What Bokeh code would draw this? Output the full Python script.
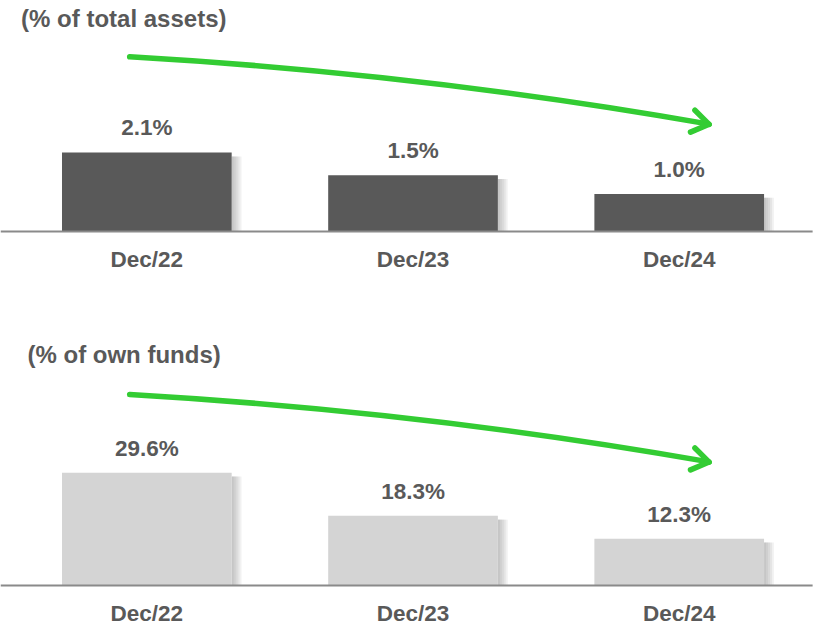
from bokeh.plotting import figure
from bokeh.models import Range1d
from bokeh.core.properties import value
from bokeh.embed import file_html
from bokeh.resources import INLINE

# ---- data ----
categories = ["Dec/22", "Dec/23", "Dec/24"]
assets_pct = [2.1, 1.5, 1.0]
own_funds_pct = [29.6, 18.3, 12.3]
assets_labels = ["2.1%", "1.5%", "1.0%"]
own_funds_labels = ["29.6%", "18.3%", "12.3%"]
title_top = "(% of total assets)"
title_bottom = "(% of own funds)"

# ---- layout / styles (reference-pixel geometry, scaled to the figure) ----
REF_W, REF_H = 834, 641
W, H = 818, 625
SX, SY = W / REF_W, H / REF_H
X0_REF, X_PX = 149.2, 271.4          # first category centre, px per category
TOP_BASE, TOP_PX = 237.0, 38.6       # top panel baseline, px per unit
BOT_BASE, BOT_PX = 600.0, 3.91       # bottom panel baseline, px per unit
BAR_W = 173 / X_PX
TXT_FIX = -8.5                       # renderer baseline correction (px)

DARK = "#595959"
LIGHT = "#d4d4d4"
TEXT = "#595959"
GREEN = "#33cc33"
FONT = value("Liberation Sans")


def fx(px):
    return (px - X0_REF) / X_PX


def fy_top(py):
    return (TOP_BASE - py) / TOP_PX


def fy_bot(py):
    return (BOT_BASE - py) / BOT_PX


p = figure(width=W, height=H, output_backend="svg", toolbar_location=None,
           x_range=Range1d(fx(0), fx(REF_W)),
           y_range=Range1d(fy_top(REF_H), fy_top(0)),
           min_border=0, outline_line_color=None)
p.extra_y_ranges = {"bot": Range1d(fy_bot(REF_H), fy_bot(0))}
p.axis.visible = False
p.grid.visible = False
p.background_fill_color = "white"
p.border_fill_color = "white"

xs = list(range(len(categories)))

panels = [
    ("default", assets_pct, assets_labels, DARK, TOP_PX, fy_top, title_top, 21.0, 27.3, 0.0),
    ("bot", own_funds_pct, own_funds_labels, LIGHT, BOT_PX, fy_bot, title_bottom, 27.5, 371.7, 346.4),
]

for rname, vals, labels, color, pxu, fy, title, tx, ty, dy in panels:
    # soft drop shadow on the right side of each bar
    for w in [2, 4, 6, 8, 10]:
        p.quad(left=[x + BAR_W / 2 for x in xs],
               right=[x + BAR_W / 2 + w / X_PX for x in xs],
               top=[v - 4 / pxu for v in vals], bottom=[0] * len(vals),
               fill_color="#808080", fill_alpha=0.11, line_color=None,
               y_range_name=rname)
    p.vbar(x=xs, top=vals, bottom=0, width=BAR_W, fill_color=color,
           line_color=None, y_range_name=rname)
    # baseline
    p.segment(x0=[fx(0)], y0=[0], x1=[fx(828)], y1=[0], line_color="#8a8a8a",
              line_width=2, y_range_name=rname)
    # value labels
    p.text(x=xs, y=vals, text=labels, text_align="center",
           text_baseline="alphabetic", y_offset=-16.5 * SY + TXT_FIX, text_font=FONT,
           text_font_style="bold", text_font_size="22.5px", text_color=TEXT,
           y_range_name=rname)
    # category labels
    p.text(x=xs, y=[0] * len(xs), text=categories, text_align="center",
           text_baseline="alphabetic", y_offset=37 * SY + TXT_FIX,
           text_font=FONT, text_font_style="bold", text_font_size="22.5px",
           text_color=TEXT, y_range_name=rname)
    # panel title
    p.text(x=[fx(tx)], y=[fy(ty)], text=[title], text_align="left",
           text_baseline="alphabetic", y_offset=TXT_FIX, text_font=FONT,
           text_font_style="bold", text_font_size="24px", text_color=TEXT,
           y_range_name=rname)
    # green trend arrow (decoration)
    p.quadratic(x0=[fx(131.7)], y0=[fy(57.7 + dy)], x1=[fx(721)], y1=[fy(126.5 + dy)],
                cx=[fx(430)], cy=[fy(75 + dy)], line_color=GREEN, line_width=5.5,
                line_cap="round", y_range_name=rname)
    p.segment(x0=[fx(722.5), fx(722.5)], y0=[fy(127 + dy), fy(127 + dy)],
              x1=[fx(708), fx(703.5)], y1=[fy(112.5 + dy), fy(135 + dy)],
              line_color=GREEN, line_width=5.5, line_cap="round",
              y_range_name=rname)

open("out.html", "w").write(file_html(p, INLINE))
